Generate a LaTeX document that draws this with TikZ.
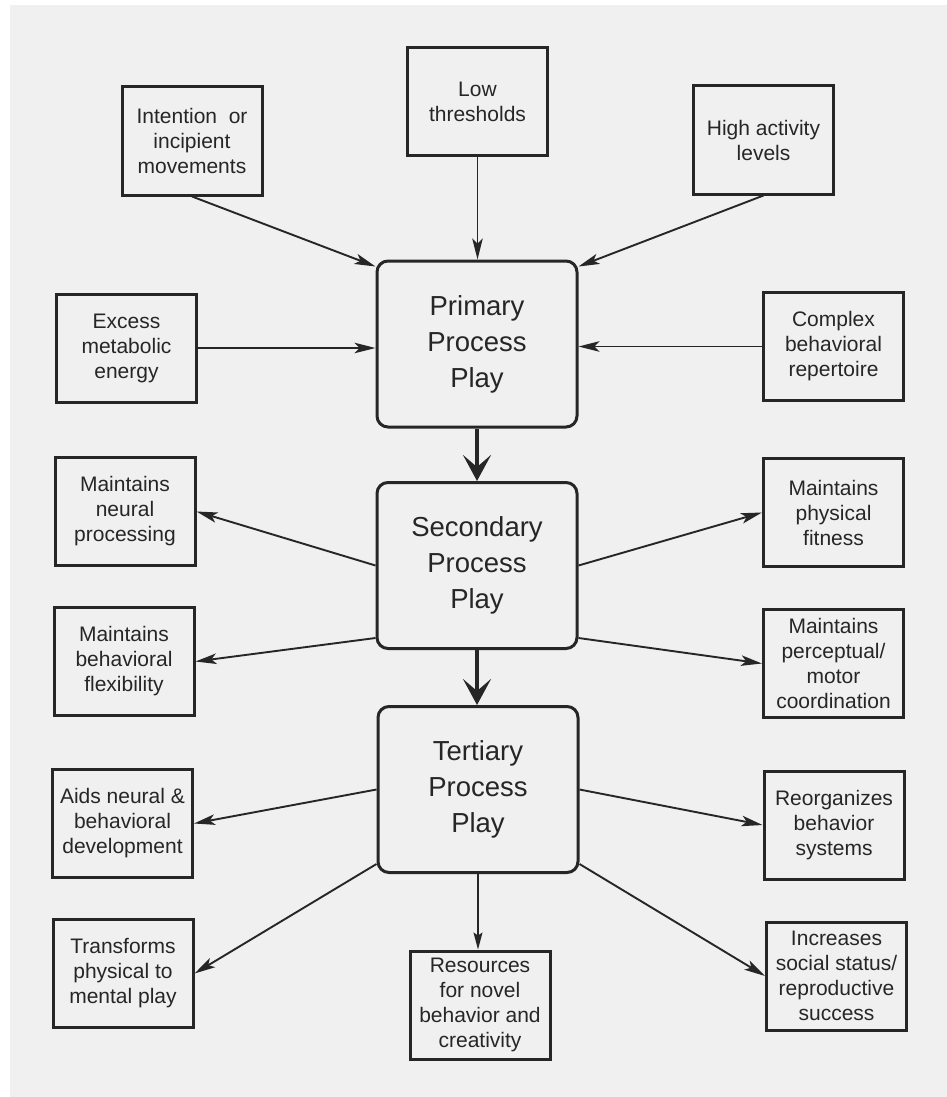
\documentclass[tikz,border=0pt]{standalone}
\usepackage{fontspec}
\setmainfont{Liberation Sans}
\usetikzlibrary{arrows.meta,calc}
\definecolor{paper}{HTML}{F0F0F0}
\definecolor{ink}{HTML}{262626}
\begin{document}
\begin{tikzpicture}[x=1pt,y=1pt,
  sbox/.style={draw=ink, line width=3pt, minimum width=140pt, minimum height=108pt,
    inner sep=0pt, align=center, text=ink, font=\fontsize{21pt}{25pt}\selectfont},
  mbox/.style={draw=ink, line width=3pt, rounded corners=11pt, minimum width=200pt,
    minimum height=166pt, inner sep=0pt, align=center, text=ink,
    font=\fontsize{27.5pt}{36pt}\selectfont},
  thinarrow/.style={draw=ink, line width=1.9pt, -{Stealth[length=21pt,width=10.5pt,inset=5pt]}},
  hairarrow/.style={draw=ink, line width=1.1pt, -{Stealth[length=17pt,width=9pt,inset=3pt]}},
  thickarrow/.style={draw=ink, line width=4.5pt, -{Stealth[length=26pt,width=28pt,inset=12pt]}},
]
\fill[white] (0,0) rectangle (947,-1097);
\fill[paper] (10,-5) rectangle (947,-1097);
\useasboundingbox (0,0) rectangle (947,-1097);

% main boxes
\node[mbox] (primary) at (477,-344) {Primary\\Process\\Play};
\node[mbox] (secondary) at (477,-565.5) {Secondary\\Process\\Play};
\node[mbox] (tertiary) at (478,-789.5) {Tertiary\\Process\\Play};

% input boxes
\node[sbox] (intent) at (192,-141) {Intention~ or\\incipient\\movements};
\node[sbox] (low) at (477.5,-101.5) {Low\\thresholds};
\node[sbox] (high) at (763.5,-140) {High activity\\levels};
\node[sbox] (excess) at (126.5,-348) {Excess\\metabolic\\energy};
\node[sbox] (complex) at (833.5,-346.5) {Complex\\behavioral\\repertoire};

% outcome boxes
\node[sbox] (neural) at (125,-511.5) {Maintains\\neural\\processing};
\node[sbox] (fitness) at (833.5,-512.5) {Maintains\\physical\\fitness};
\node[sbox] (flex) at (124,-661.5) {Maintains\\behavioral\\flexibility};
\node[sbox] (percept) at (833.5,-663.5) {Maintains\\perceptual/\\motor\\coordination};
\node[sbox] (aids) at (122.5,-823.5) {Aids neural \&\\behavioral\\development};
\node[sbox] (reorg) at (834,-825) {Reorganizes\\behavior\\systems};
\node[sbox] (transforms) at (123,-973.5) {Transforms\\physical to\\mental play};
\node[sbox] (resources) at (480,-1005) {Resources\\for novel\\behavior and\\creativity};
\node[sbox] (increases) at (836.5,-976) {Increases\\social status/\\reproductive\\success};

% inputs to primary
\draw[thinarrow] (intent.south) -- ([yshift=-7pt]primary.north west);
\draw[thinarrow] (low.south) -- (low.south |- primary.north);
\draw[thinarrow] (high.south) -- ([yshift=-7pt]primary.north east);
\draw[thinarrow] (excess.east) -- (excess.east -| primary.west);
\draw[thinarrow] (complex.west) -- (complex.west -| primary.east);

% main flow
\draw[thickarrow] (primary.south) -- (primary.south |- secondary.north);
\draw[thickarrow] (secondary.south) -- (secondary.south |- tertiary.north);

% secondary outputs
\draw[thinarrow] (secondary.west) -- (neural.east);
\draw[thinarrow] (secondary.east) -- (fitness.west);
\draw[thinarrow] ([yshift=12pt]secondary.south west) -- (flex.east);
\draw[thinarrow] ([yshift=12pt]secondary.south east) -- (percept.west);

% tertiary outputs
\draw[thinarrow] (tertiary.west) -- (aids.east);
\draw[thinarrow] (tertiary.east) -- (reorg.west);
\draw[thinarrow] ([yshift=10pt]tertiary.south west) -- (transforms.east);
\draw[thinarrow] ([yshift=10pt]tertiary.south east) -- (increases.west);
\draw[hairarrow] (tertiary.south) -- (tertiary.south |- resources.north);
\end{tikzpicture}
\end{document}
